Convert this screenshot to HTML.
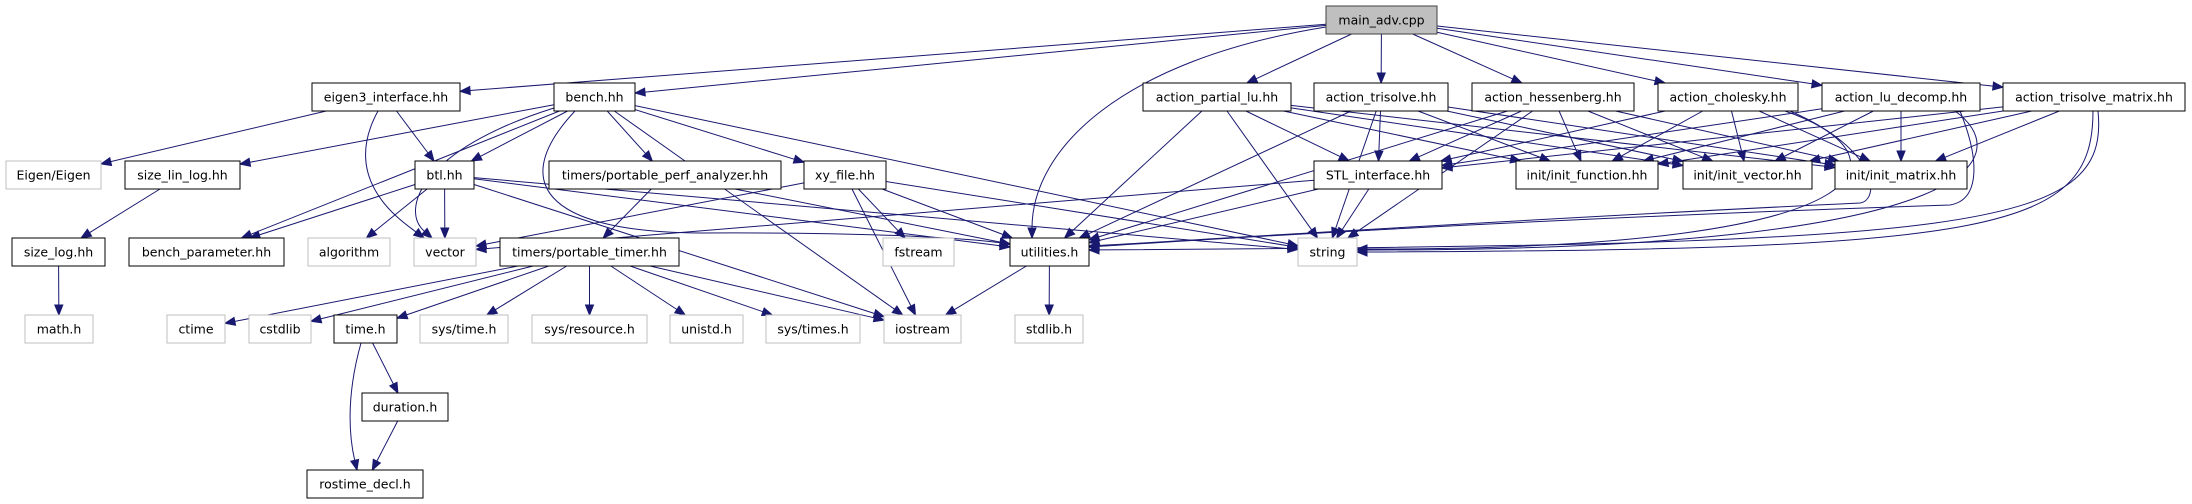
<!DOCTYPE html>
<html><head><meta charset="utf-8"><style>
html,body{margin:0;padding:0;background:#fff;}
svg{display:block;}
text{font-family:"DejaVu Sans","Liberation Sans",sans-serif;font-size:12.5px;fill:#000;}
</style></head><body>
<svg id="g" width="2192" height="504" xmlns="http://www.w3.org/2000/svg">
<g id="edges"></g>
<g id="nodes">
<rect x="1326" y="6" width="111" height="28" fill="#bfbfbf" stroke="#404040"/><text x="1381.5" y="24.5" text-anchor="middle">main_adv.cpp</text>
<rect x="312" y="83" width="148" height="28" fill="#fff" stroke="#000"/><text x="386" y="101.5" text-anchor="middle">eigen3_interface.hh</text>
<rect x="554" y="83" width="81" height="28" fill="#fff" stroke="#000"/><text x="594.5" y="101.5" text-anchor="middle">bench.hh</text>
<rect x="1143" y="83" width="148" height="28" fill="#fff" stroke="#000"/><text x="1217" y="101.5" text-anchor="middle">action_partial_lu.hh</text>
<rect x="1314" y="83" width="134" height="28" fill="#fff" stroke="#000"/><text x="1381" y="101.5" text-anchor="middle">action_trisolve.hh</text>
<rect x="1472" y="83" width="162" height="28" fill="#fff" stroke="#000"/><text x="1553" y="101.5" text-anchor="middle">action_hessenberg.hh</text>
<rect x="1658" y="83" width="140" height="28" fill="#fff" stroke="#000"/><text x="1728" y="101.5" text-anchor="middle">action_cholesky.hh</text>
<rect x="1822" y="83" width="158" height="28" fill="#fff" stroke="#000"/><text x="1901" y="101.5" text-anchor="middle">action_lu_decomp.hh</text>
<rect x="2003" y="83" width="182" height="28" fill="#fff" stroke="#000"/><text x="2094" y="101.5" text-anchor="middle">action_trisolve_matrix.hh</text>

<rect x="6" y="161" width="95" height="28" fill="#fff" stroke="#bfbfbf"/><text x="53.5" y="179.5" text-anchor="middle">Eigen/Eigen</text>
<rect x="125" y="161" width="115" height="28" fill="#fff" stroke="#000"/><text x="182.5" y="179.5" text-anchor="middle">size_lin_log.hh</text>
<rect x="415" y="161" width="59" height="28" fill="#fff" stroke="#000"/><text x="444.5" y="179.5" text-anchor="middle">btl.hh</text>
<rect x="549" y="161" width="232" height="28" fill="#fff" stroke="#000"/><text x="665" y="179.5" text-anchor="middle">timers/portable_perf_analyzer.hh</text>
<rect x="804" y="161" width="82" height="28" fill="#fff" stroke="#000"/><text x="845" y="179.5" text-anchor="middle">xy_file.hh</text>
<rect x="1314" y="161" width="128" height="28" fill="#fff" stroke="#000"/><text x="1378" y="179.5" text-anchor="middle">STL_interface.hh</text>
<rect x="1516" y="161" width="142" height="28" fill="#fff" stroke="#000"/><text x="1587" y="179.5" text-anchor="middle">init/init_function.hh</text>
<rect x="1683" y="161" width="129" height="28" fill="#fff" stroke="#000"/><text x="1747.5" y="179.5" text-anchor="middle">init/init_vector.hh</text>
<rect x="1835" y="161" width="132" height="28" fill="#fff" stroke="#000"/><text x="1901" y="179.5" text-anchor="middle">init/init_matrix.hh</text>

<rect x="12" y="238" width="93" height="28" fill="#fff" stroke="#000"/><text x="58.5" y="256.5" text-anchor="middle">size_log.hh</text>
<rect x="129" y="238" width="155" height="28" fill="#fff" stroke="#000"/><text x="206.5" y="256.5" text-anchor="middle">bench_parameter.hh</text>
<rect x="308" y="238" width="82" height="28" fill="#fff" stroke="#bfbfbf"/><text x="349" y="256.5" text-anchor="middle">algorithm</text>
<rect x="414" y="238" width="62" height="28" fill="#fff" stroke="#bfbfbf"/><text x="445" y="256.5" text-anchor="middle">vector</text>
<rect x="500" y="238" width="179" height="28" fill="#fff" stroke="#000"/><text x="589.5" y="256.5" text-anchor="middle">timers/portable_timer.hh</text>
<rect x="883" y="238" width="71" height="28" fill="#fff" stroke="#bfbfbf"/><text x="918.5" y="256.5" text-anchor="middle">fstream</text>
<rect x="1010" y="238" width="79" height="28" fill="#fff" stroke="#000"/><text x="1049.5" y="256.5" text-anchor="middle">utilities.h</text>
<rect x="1298" y="238" width="59" height="28" fill="#fff" stroke="#bfbfbf"/><text x="1327.5" y="256.5" text-anchor="middle">string</text>

<rect x="25" y="315" width="68" height="28" fill="#fff" stroke="#bfbfbf"/><text x="59" y="333.5" text-anchor="middle">math.h</text>
<rect x="167" y="315" width="58" height="28" fill="#fff" stroke="#bfbfbf"/><text x="196" y="333.5" text-anchor="middle">ctime</text>
<rect x="249" y="315" width="62" height="28" fill="#fff" stroke="#bfbfbf"/><text x="280" y="333.5" text-anchor="middle">cstdlib</text>
<rect x="334" y="315" width="63" height="28" fill="#fff" stroke="#000"/><text x="365.5" y="333.5" text-anchor="middle">time.h</text>
<rect x="420" y="315" width="88" height="28" fill="#fff" stroke="#bfbfbf"/><text x="464" y="333.5" text-anchor="middle">sys/time.h</text>
<rect x="532" y="315" width="115" height="28" fill="#fff" stroke="#bfbfbf"/><text x="589.5" y="333.5" text-anchor="middle">sys/resource.h</text>
<rect x="670" y="315" width="73" height="28" fill="#fff" stroke="#bfbfbf"/><text x="706.5" y="333.5" text-anchor="middle">unistd.h</text>
<rect x="766" y="315" width="94" height="28" fill="#fff" stroke="#bfbfbf"/><text x="813" y="333.5" text-anchor="middle">sys/times.h</text>
<rect x="884" y="315" width="77" height="28" fill="#fff" stroke="#bfbfbf"/><text x="922.5" y="333.5" text-anchor="middle">iostream</text>
<rect x="1015" y="315" width="68" height="28" fill="#fff" stroke="#bfbfbf"/><text x="1049" y="333.5" text-anchor="middle">stdlib.h</text>

<rect x="362" y="393" width="86" height="28" fill="#fff" stroke="#000"/><text x="405" y="411.5" text-anchor="middle">duration.h</text>
<rect x="307" y="470" width="116" height="28" fill="#fff" stroke="#000"/><text x="365" y="488.5" text-anchor="middle">rostime_decl.h</text>
</g>
</svg>
<script>
var R=[6,83,161,238,315,393,470];
var N={
main:[1326,1437,0],eig3:[312,460,1],bench:[554,635,1],apl:[1143,1291,1],atri:[1314,1448,1],ahess:[1472,1634,1],achol:[1658,1798,1],alu:[1822,1980,1],atm:[2003,2185,1],
eigen:[6,101,2],sll:[125,240,2],btl:[415,474,2],ppa:[549,781,2],xy:[804,886,2],stl:[1314,1442,2],ifn:[1516,1658,2],ivec:[1683,1812,2],imat:[1835,1967,2],
slog:[12,105,3],bp:[129,284,3],alg:[308,390,3],vec:[414,476,3],pt:[500,679,3],fstr:[883,954,3],util:[1010,1089,3],str:[1298,1357,3],
math:[25,93,4],ctime:[167,225,4],cstd:[249,311,4],timeh:[334,397,4],systime:[420,508,4],sysres:[532,647,4],unistd:[670,743,4],systimes:[766,860,4],iostr:[884,961,4],stdlib:[1015,1083,4],
dur:[362,448,5],ros:[307,423,6]};
var E=[["main","eig3"],["main","bench"],["main","apl"],["main","atri"],["main","ahess"],["main","achol"],["main","alu"],["main","atm"],
["eig3","eigen"],["eig3","btl"],
["bench","sll"],["bench","btl"],["bench","bp"],["bench","ppa"],["bench","xy"],["bench","iostr"],["bench","str"],
["btl","bp"],["btl","alg"],["btl","vec"],["btl","util"],["btl","str"],["btl","iostr"],
["sll","slog"],["slog","math"],["ppa","pt"],["ppa","util"],
["xy","fstr"],["xy","iostr"],["xy","vec"],["xy","str"],["xy","util"],
["pt","ctime"],["pt","cstd"],["pt","timeh"],["pt","systime"],["pt","sysres"],["pt","unistd"],["pt","systimes"],["pt","iostr"],
["timeh","dur"],["dur","ros"],["util","iostr"],["util","stdlib"],
["stl","vec"],["stl","util"],["stl","str"]];
["apl","atri","ahess","achol","alu","atm"].forEach(function(a){["stl","ifn","ivec","imat"].forEach(function(b){E.push([a,b]);});});
["apl","atri","ahess"].forEach(function(a){["util","str"].forEach(function(b){E.push([a,b]);});});
function box(n){var v=N[n];return {x1:v[0],x2:v[1],y1:R[v[2]],y2:R[v[2]]+28,cx:(v[0]+v[1])/2,cy:R[v[2]]+14};}
function clip(b,dx,dy){var tx=dx?((dx>0?b.x2:b.x1)-b.cx)/dx:1e9,ty=dy?((dy>0?b.y2:b.y1)-b.cy)/dy:1e9;var t=Math.min(Math.abs(tx),Math.abs(ty));return [b.cx+dx*t,b.cy+dy*t];}
var s="";
function arrow(q,fx,fy){var L=Math.hypot(q[0]-fx,q[1]-fy),ux=(q[0]-fx)/L,uy=(q[1]-fy)/L;var bx=q[0]-ux*10,by=q[1]-uy*10;
s+='<polygon points="'+q[0].toFixed(1)+','+q[1].toFixed(1)+' '+(bx-uy*4).toFixed(1)+','+(by+ux*4).toFixed(1)+' '+(bx+uy*4).toFixed(1)+','+(by-ux*4).toFixed(1)+'" fill="#191970" stroke="#191970"/>';return [bx,by];}
E.forEach(function(e){var a=box(e[0]),b=box(e[1]);
var dx=b.cx-a.cx,dy=b.cy-a.cy;
var p=clip(a,dx,dy),q=clip(b,-dx,-dy);
var bb=arrow(q,p[0],p[1]);
s+='<line x1="'+p[0].toFixed(1)+'" y1="'+p[1].toFixed(1)+'" x2="'+bb[0].toFixed(1)+'" y2="'+bb[1].toFixed(1)+'" stroke="#191970" stroke-width="1"/>';});
function curve(d,q,c2){var bb=arrow(q,c2[0],c2[1]);s+='<path d="'+d+' '+bb[0].toFixed(1)+','+bb[1].toFixed(1)+'" fill="none" stroke="#191970" stroke-width="1"/>';}
curve("M1326,27 C1120,60 1032,150 ",[1032,238],[1032,150]);
curve("M378,111 C340,180 400,220 ",[424,238],[400,220]);
curve("M554,108 C420,150 400,210 ",[432,238],[400,210]);
curve("M575,111 C510,180 540,232 700,233 C900,232 980,240 ",[1010,244],[980,240]);
curve("M2093,111 C2093,230 2000,250 ",[1357,252],[2000,250]);
curve("M2098,111 C2110,230 1980,245 ",[1089,250],[1980,245]);
curve("M1955,111 C2010,150 2010,250 ",[1357,250],[2010,250]);
curve("M1960,111 C1980,160 1980,200 1950,205 C1500,220 1200,240 ",[1089,247],[1200,240]);
curve("M1785,111 C1900,150 1920,250 ",[1357,249],[1920,250]);
curve("M1790,111 C1880,150 1880,200 1860,203 C1500,220 1200,240 ",[1089,246],[1200,240]);
curve("M361,343 C345,400 350,440 ",[357,470],[350,440]);
document.getElementById("edges").innerHTML=s;
</script>
</body></html>
